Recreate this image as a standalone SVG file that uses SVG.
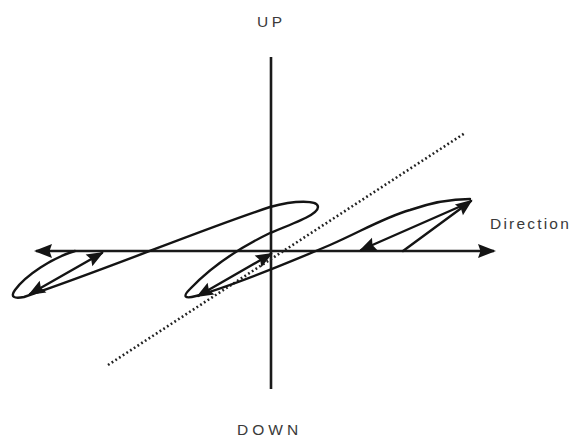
<svg xmlns="http://www.w3.org/2000/svg" width="573" height="438" viewBox="0 0 573 438">
<style>
.ln{fill:none;stroke:#141414;stroke-width:2.4;stroke-linecap:round;stroke-linejoin:round}
.ax{fill:none;stroke:#1a1a1a;stroke-width:2.6}
.dot{fill:none;stroke:#222;stroke-width:2.6;stroke-dasharray:1.8 2.6}
.lbl{font-family:"Liberation Sans",Arial,sans-serif;font-size:15.5px;fill:#3a3a3a}
</style>
<defs>
<marker id="ah" viewBox="-19 -8 22 16" refX="0" refY="0" markerWidth="22" markerHeight="16" markerUnits="userSpaceOnUse" orient="auto-start-reverse">
<path d="M2,0 L-16,-7 L-13.5,0 L-16,7 Z" fill="#141414"/>
</marker>
<marker id="ahs" viewBox="-18 -8 21 16" refX="0" refY="0" markerWidth="21" markerHeight="16" markerUnits="userSpaceOnUse" orient="auto-start-reverse">
<path d="M2,0 L-15,-6.8 L-12.5,0 L-15,6.8 Z" fill="#141414"/>
</marker>
</defs>
<g id="axes">
<line id="v-axis" class="ax" x1="271" y1="57" x2="271" y2="389"/>
<line id="h-axis" class="ax" x1="36" y1="251" x2="494" y2="251" marker-start="url(#ah)" marker-end="url(#ah)"/>
</g>
<g id="trend">
<line class="dot" x1="108" y1="365" x2="465" y2="133"/>
</g>
<g id="connectors">
<path id="main-curve" class="ln" d="M75,251 C52,258 26,275 15,290 C10,297 14,299 24,297 C110,268 200,230 270,207 C295,200 318,200 318,207 C318,214 300,221 270,233 C235,250 208,270 190,289 C182,297 185,299 196,296 C235,285 290,262 330,245 C360,232 385,217 410,210 C430,203 450,199 470,199"/>
<line class="ln" x1="403" y1="251" x2="471" y2="201" marker-end="url(#ahs)"/>
<line class="ln" x1="468" y1="203" x2="361" y2="250" marker-end="url(#ahs)"/>
<line class="ln" x1="30" y1="294" x2="102" y2="253" marker-start="url(#ahs)" marker-end="url(#ahs)"/>
<line class="ln" x1="198" y1="296" x2="271" y2="254" marker-start="url(#ahs)" marker-end="url(#ahs)"/>
</g>
<g id="label-up"><text class="lbl" x="257" y="27" letter-spacing="3.5">UP</text></g>
<g id="label-down"><text class="lbl" x="237" y="435" letter-spacing="4">DOWN</text></g>
<g id="label-direction"><text class="lbl" x="490" y="229" letter-spacing="2.2">Direction</text></g>
</svg>
